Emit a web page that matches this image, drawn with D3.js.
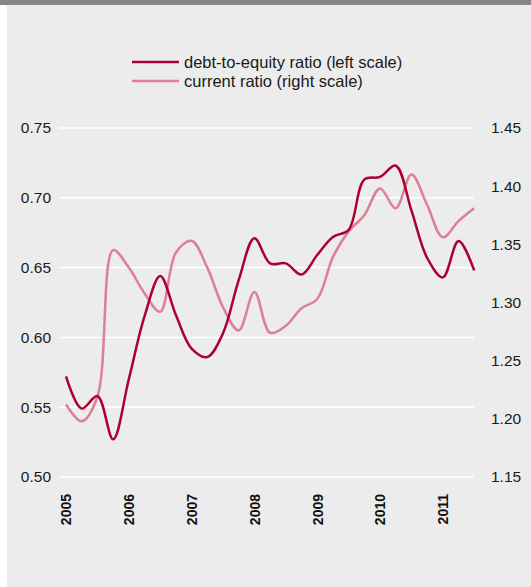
<!DOCTYPE html>
<html lang="en">
<head>
  <meta charset="UTF-8">
  <title>debt-to-equity vs current ratio</title>
  <script src="https://cdn.jsdelivr.net/npm/d3@7"></script>
  <style>
    body { margin: 0; background: #fff; }
    svg { display: block; font-family: "Liberation Sans", Arial, sans-serif; }
  </style>
</head>
<body>
  <svg width="531" height="587"></svg>
  <script>
    // quarterly, 2005 Q1 .. 2011 Q3
    var quarters = d3.range(27).map(i => 2005 + i / 4)
    var debtToEquity = [0.572, 0.549, 0.558, 0.527, 0.570, 0.615, 0.644, 0.616, 0.592,
      0.586, 0.603, 0.641, 0.671, 0.653, 0.653, 0.645, 0.659, 0.672, 0.677,
      0.713, 0.715, 0.723, 0.691, 0.657, 0.643, 0.669, 0.648]
    var currentRatio = [1.2125, 1.198, 1.219, 1.345, 1.330, 1.308, 1.292, 1.343, 1.353,
      1.330, 1.296, 1.276, 1.309, 1.274, 1.280, 1.295, 1.303, 1.339, 1.361,
      1.375, 1.398, 1.381, 1.410, 1.384, 1.356, 1.370, 1.381]
    var years = [2005, 2006, 2007, 2008, 2009, 2010, 2011]
    var leftTicks = [0.50, 0.55, 0.60, 0.65, 0.70, 0.75]
    var rightTicks = [1.15, 1.20, 1.25, 1.30, 1.35, 1.40, 1.45]
    var seriesNames = ['debt-to-equity ratio (left scale)', 'current ratio (right scale)']
    var colors = ['#ac0034', '#de7f96']

    var svg = d3.select('svg')

    // background panel + top bar
    svg.append('rect').attr('x', 7).attr('y', 0).attr('width', 524).attr('height', 587).attr('fill', '#ebeceb')
    svg.append('rect').attr('x', 0).attr('y', 0).attr('width', 531).attr('height', 5).attr('fill', '#858688')

    var x = d3.scaleLinear().domain([2005, 2011.5]).range([66, 474.2])
    var yL = d3.scaleLinear().domain([0.50, 0.75]).range([477, 128])
    var yR = d3.scaleLinear().domain([1.15, 1.45]).range([477, 128])

    // grid
    svg.append('g').selectAll('line')
      .data(leftTicks)
      .enter().append('line')
      .attr('x1', 59).attr('x2', 474)
      .attr('y1', d => yL(d)).attr('y2', d => yL(d))
      .attr('stroke', '#fff').attr('stroke-width', 1.5)

    // left axis labels
    var leftAxis = svg.append('g')
      .attr('transform', 'translate(51,0)')
      .call(d3.axisLeft(yL).tickValues(leftTicks).tickFormat(d3.format('.2f')).tickSize(0).tickPadding(0))
    leftAxis.select('.domain').remove()
    leftAxis.selectAll('text').attr('font-size', 15.5).attr('fill', '#1a1a1a').attr('font-family', null)

    // right axis labels
    var rightAxis = svg.append('g')
      .attr('transform', 'translate(491,0)')
      .call(d3.axisRight(yR).tickValues(rightTicks).tickFormat(d3.format('.2f')).tickSize(0).tickPadding(0))
    rightAxis.select('.domain').remove()
    rightAxis.selectAll('text').attr('font-size', 15.5).attr('fill', '#1a1a1a').attr('font-family', null)

    // year labels, rotated
    svg.append('g').selectAll('text')
      .data(years)
      .enter().append('text')
      .attr('transform', d => `translate(${x(d) + 0.5},494) rotate(-90)`)
      .attr('text-anchor', 'end')
      .attr('dy', '0.35em')
      .attr('font-size', 14)
      .attr('font-weight', 'bold')
      .attr('fill', '#111')
      .text(d => d)

    var lineL = d3.line().x((d, i) => x(quarters[i])).y(d => yL(d)).curve(d3.curveCatmullRom.alpha(0.5))
    var lineR = d3.line().x((d, i) => x(quarters[i])).y(d => yR(d)).curve(d3.curveCatmullRom.alpha(0.5))

    svg.append('path').attr('d', lineR(currentRatio))
      .attr('fill', 'none').attr('stroke', colors[1]).attr('stroke-width', 2.5)
    svg.append('path').attr('d', lineL(debtToEquity))
      .attr('fill', 'none').attr('stroke', colors[0]).attr('stroke-width', 2.5)

    // legend
    var legend = svg.append('g').selectAll('g')
      .data(seriesNames)
      .enter().append('g')
      .attr('transform', (d, i) => `translate(132,${62 + i * 19})`)
    legend.append('line')
      .attr('x1', 0).attr('x2', 47)
      .attr('stroke', (d, i) => colors[i]).attr('stroke-width', 2.5)
    legend.append('text')
      .attr('x', 52).attr('dy', '0.35em')
      .attr('font-size', 16.5).attr('fill', '#1a1a1a')
      .text(d => d)
  </script>
</body>
</html>
